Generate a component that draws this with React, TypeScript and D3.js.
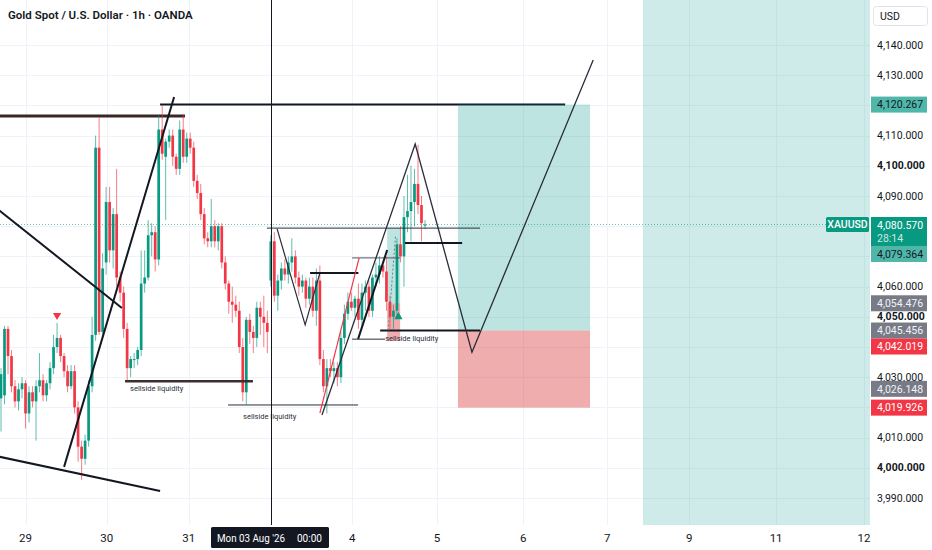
import React, { useEffect, useRef } from 'react'
import * as d3 from 'd3'

const title = 'Gold Spot / U.S. Dollar · 1h · OANDA'

// hourly candles: [open, high, low, close]
const candles: [number, number, number, number][] = [
  [4023, 4033, 4012, 4031], [4024, 4047, 4021, 4046], [4046, 4047, 4031, 4037],
  [4037, 4039, 4025, 4027], [4027, 4029, 4020, 4022], [4022, 4028, 4019, 4026],
  [4026, 4030, 4023, 4028], [4028, 4029, 4013, 4018], [4018, 4027, 4015, 4025],
  [4025, 4027, 4020, 4022], [4022, 4029, 4009, 4027], [4027, 4038, 4025, 4029],
  [4029, 4031, 4022, 4024], [4024, 4029, 4022, 4028], [4028, 4035, 4026, 4033],
  [4033, 4044, 4031, 4040], [4040, 4048, 4038, 4043], [4043, 4044, 4035, 4037],
  [4037, 4038, 4030, 4032], [4032, 4034, 4025, 4027], [4027, 4034, 4026, 4032],
  [4032, 4034, 4018, 4020], [4020, 4022, 4002, 4007], [4007, 4009, 3996, 4003],
  [4003, 4011, 4001, 4009], [4009, 4029, 4007, 4027], [4027, 4050, 4025, 4044],
  [4044, 4110, 4042, 4106], [4106, 4116, 4044, 4045], [4045, 4071, 4043, 4066],
  [4068, 4093, 4064, 4088], [4088, 4093, 4068, 4072], [4072, 4086, 4066, 4084],
  [4084, 4099, 4060, 4063], [4063, 4065, 4055, 4058], [4058, 4060, 4043, 4046],
  [4046, 4048, 4029, 4033], [4033, 4037, 4030, 4036], [4036, 4038, 4033, 4036],
  [4036, 4040, 4034, 4039], [4039, 4072, 4037, 4061], [4061, 4072, 4058, 4063],
  [4063, 4082, 4062, 4077], [4077, 4081, 4070, 4078], [4078, 4080, 4065, 4069],
  [4069, 4117, 4067, 4112], [4112, 4120, 4102, 4104], [4103, 4109, 4082, 4108],
  [4108, 4112, 4106, 4110], [4110, 4112, 4100, 4103], [4103, 4104, 4097, 4099],
  [4099, 4115, 4097, 4112], [4112, 4117, 4101, 4103], [4103, 4111, 4101, 4109],
  [4109, 4111, 4104, 4106], [4106, 4108, 4093, 4095], [4095, 4097, 4089, 4091],
  [4091, 4094, 4082, 4084], [4084, 4086, 4074, 4076], [4076, 4078, 4073, 4075],
  [4075, 4089, 4073, 4080], [4080, 4082, 4073, 4075], [4075, 4081, 4072, 4080],
  [4080, 4081, 4066, 4068], [4068, 4070, 4059, 4061], [4061, 4062, 4051, 4055],
  [4055, 4060, 4048, 4054], [4054, 4057, 4050, 4052], [4052, 4055, 4038, 4040],
  [4040, 4043, 4022, 4025], [4025, 4050, 4021, 4049], [4049, 4051, 4041, 4045],
  [4045, 4047, 4038, 4043], [4043, 4055, 4040, 4053], [4053, 4055, 4044, 4050],
  [4050, 4057, 4040, 4048], [4048, 4052, 4038, 4045], [4062, 4077, 4060, 4075],
  [4075, 4078, 4055, 4057], [4057, 4064, 4052, 4062], [4062, 4068, 4059, 4066],
  [4066, 4069, 4062, 4064], [4064, 4070, 4061, 4068], [4068, 4076, 4065, 4070],
  [4070, 4072, 4061, 4063], [4063, 4065, 4057, 4060], [4060, 4064, 4058, 4062],
  [4062, 4063, 4053, 4056], [4056, 4063, 4054, 4060], [4060, 4063, 4050, 4052],
  [4052, 4066, 4047, 4062], [4062, 4067, 4034, 4036], [4036, 4039, 4025, 4027],
  [4027, 4036, 4018, 4033], [4033, 4036, 4030, 4032], [4032, 4035, 4028, 4033],
  [4033, 4035, 4027, 4030], [4030, 4045, 4028, 4043], [4043, 4054, 4041, 4051],
  [4051, 4058, 4049, 4055], [4055, 4058, 4052, 4053], [4053, 4057, 4050, 4056],
  [4056, 4061, 4046, 4049], [4049, 4061, 4047, 4058], [4058, 4062, 4052, 4060],
  [4060, 4062, 4050, 4052], [4052, 4064, 4050, 4063], [4063, 4068, 4060, 4064],
  [4064, 4070, 4061, 4067], [4067, 4068, 4063, 4065], [4065, 4070, 4052, 4055],
  [4055, 4057, 4046, 4050], [4050, 4054, 4046, 4052], [4052, 4076, 4050, 4074],
  [4074, 4080, 4068, 4070], [4070, 4090, 4060, 4083], [4083, 4097, 4078, 4085],
  [4085, 4100, 4075, 4088], [4088, 4099, 4080, 4094], [4094, 4107, 4084, 4087],
  [4087, 4090, 4075, 4081], [4080.2, 4082, 4079, 4080.57],
]

const lastPrice = 4080.57
const countdown = '28:14'
const symbol = 'XAUUSD'

// x axis (bar index) and y axis (price)
const dayTickIdx = [7, 30.2, 53.6, 77, 100.2, 124.4, 149, 173, 196.4, 221.2, 246.3]
const dayTickLabels = ['29', '30', '31', '3', '4', '5', '6', '7', '9', '11', '12']
const priceTicks = [3990, 4000, 4010, 4020, 4030, 4040, 4050, 4060, 4070, 4080, 4090, 4100, 4110, 4120, 4130, 4140]
const boldTicks = [4000, 4050, 4100]
const crosshairIdx = 77.05
const crosshairDate = "Mon 03 Aug '26"
const crosshairTime = '00:00'

// drawings: [bar index, price]
const topResistance: [number, number][] = [[-1, 4116.5], [52.5, 4116.5]]
const targetLine: [number, number][] = [[45.4, 4120.267], [161, 4120.267]]
const fallingLine: [number, number][] = [[-1, 4085.7], [34.5, 4052.9]]
const risingLine: [number, number][] = [[18, 4000.3], [49.4, 4122.8]]
const lowerLine: [number, number][] = [[-1, 4003.8], [45.4, 3992.3]]
const sellside1: [number, number][] = [[35.4, 4028.7], [71.9, 4028.7]]
const sellside2: [number, number][] = [[64.8, 4020.8], [101.9, 4020.8]]
const sellside3: [number, number][] = [[108.2, 4045.456], [136.7, 4045.456]]
const rangeTop: [number, number][] = [[75.9, 4079.364], [136.7, 4079.364]]
const zigzagSmall: [number, number][] = [[78.8, 4079.1], [86.8, 4047.3], [91, 4064.5]]
const midHigh: [number, number][] = [[88.2, 4064.5], [102, 4064.5]]
const innerHigh: [number, number][] = [[100.2, 4069.5], [113.9, 4069.5]]
const redTrend: [number, number][] = [[91, 4018.1], [102.2, 4069.5]]
const projection: [number, number][] = [[91.6, 4017.5], [118.2, 4107.2], [134.4, 4038.3], [169, 4135]]
const channelLine: [number, number][] = [[101.9, 4042.6], [110.2, 4072.1]]
const channelBase: [number, number][] = [[100.2, 4042.6], [109.6, 4042.6]]
const breakLevel: [number, number][] = [[115.3, 4074.4], [131.6, 4074.4]]
const smallTrend: [number, number][] = [[110.5, 4045.5], [112.6, 4077]]
const sellsideLabel = 'sellside liquidity'

// position tools: [from, to] bars and [target, entry, stop] prices
const longSpan = [130.4, 168.1]
const longLevels = [4120.267, 4045.456, 4019.926]
const smallSpan = [110.2, 113.9]
const smallLevels = [4079.364, 4054.476, 4042.019]
const zoneSpan = [183.2, 260]

// markers
const downMarker: [number, number] = [16, 4050.5]
const upMarker: [number, number] = [113.4, 4050]

// price scale marks
const markPrices = [4120.267, 4079.364, 4054.476, 4045.456, 4042.019, 4026.148, 4019.926]
const markKinds = ['tp', 'tp', 'gray', 'gray', 'sl', 'gray', 'sl']

const FONT = "Roboto, 'Noto Sans', sans-serif"
const UP = '#089981'
const DOWN = '#f23645'
const W = 932
const H = 550
const PLOT_R = 870
const PLOT_B = 525

const App: React.FC = () => {
  const svgRef = useRef<SVGSVGElement>(null)

  useEffect(() => {
    const svg = d3.select(svgRef.current)
    svg.selectAll('*').remove()

    const x = d3.scaleLinear().domain([0, 121]).range([1, 425])
    const y = d3.scaleLinear().domain([3990, 4140]).range([498, 45])

    svg.append('rect').attr('width', W).attr('height', H).attr('fill', '#fff')

    svg
      .append('clipPath')
      .attr('id', 'plot-clip')
      .append('rect')
      .attr('width', PLOT_R)
      .attr('height', PLOT_B)

    const plot = svg.append('g').attr('clip-path', 'url(#plot-clip)')

    // grid
    plot
      .selectAll('.hgrid')
      .data(priceTicks)
      .enter()
      .append('line')
      .attr('x1', 0)
      .attr('x2', PLOT_R)
      .attr('y1', (d) => Math.round(y(d)) + 0.5)
      .attr('y2', (d) => Math.round(y(d)) + 0.5)
      .attr('stroke', '#eff2f8')
    plot
      .selectAll('.vgrid')
      .data(dayTickIdx)
      .enter()
      .append('line')
      .attr('x1', (d) => Math.round(x(d)) + 0.5)
      .attr('x2', (d) => Math.round(x(d)) + 0.5)
      .attr('y1', 0)
      .attr('y2', PLOT_B)
      .attr('stroke', '#eff2f8')

    // far right projection zone
    plot
      .append('rect')
      .attr('x', x(zoneSpan[0]))
      .attr('y', 0)
      .attr('width', x(zoneSpan[1]) - x(zoneSpan[0]))
      .attr('height', PLOT_B)
      .attr('fill', 'rgba(38,166,154,0.22)')

    const line = d3
      .line<[number, number]>()
      .x((d) => x(d[0]))
      .y((d) => y(d[1]))

    const draw = (pts: [number, number][], color: string, width: number) =>
      plot
        .append('path')
        .attr('d', line(pts))
        .attr('fill', 'none')
        .attr('stroke', color)
        .attr('stroke-width', width)

    draw(targetLine, '#131722', 2)
    draw(topResistance, '#3b2626', 3)

    // position boxes
    const box = (span: number[], levels: number[]) => {
      plot
        .append('rect')
        .attr('x', x(span[0]))
        .attr('y', y(levels[0]))
        .attr('width', x(span[1]) - x(span[0]))
        .attr('height', y(levels[1]) - y(levels[0]))
        .attr('fill', 'rgba(38,166,154,0.3)')
      plot
        .append('rect')
        .attr('x', x(span[0]))
        .attr('y', y(levels[1]))
        .attr('width', x(span[1]) - x(span[0]))
        .attr('height', y(levels[2]) - y(levels[1]))
        .attr('fill', 'rgba(220,60,60,0.42)')
    }
    box(longSpan, longLevels)
    box(smallSpan, smallLevels)

    // current price dotted line
    plot
      .append('line')
      .attr('x1', 0)
      .attr('x2', PLOT_R)
      .attr('y1', Math.round(y(lastPrice)) + 0.5)
      .attr('y2', Math.round(y(lastPrice)) + 0.5)
      .attr('stroke', UP)
      .attr('stroke-opacity', 0.6)
      .attr('stroke-dasharray', '1,2')

    // candles
    const bars = plot
      .selectAll('.candle')
      .data(candles)
      .enter()
      .append('g')
    bars
      .append('line')
      .attr('x1', (_, i) => x(i))
      .attr('x2', (_, i) => x(i))
      .attr('y1', (d) => y(d[1]))
      .attr('y2', (d) => y(d[2]))
      .attr('stroke', (d) => (d[3] >= d[0] ? UP : DOWN))
      .attr('stroke-opacity', 0.65)
      .attr('stroke-width', 1)
    bars
      .append('rect')
      .attr('x', (_, i) => x(i) - 1.35)
      .attr('width', 2.7)
      .attr('y', (d) => y(Math.max(d[0], d[3])))
      .attr('height', (d) => Math.max(1, Math.abs(y(d[0]) - y(d[3]))))
      .attr('fill', (d) => (d[3] >= d[0] ? UP : DOWN))

    // markers
    const tri = d3.symbol().type(d3.symbolTriangle).size(30)
    plot
      .append('path')
      .attr('d', tri())
      .attr('transform', `translate(${x(downMarker[0])},${y(downMarker[1])}) rotate(180)`)
      .attr('fill', DOWN)
    plot
      .append('path')
      .attr('d', tri())
      .attr('transform', `translate(${x(upMarker[0])},${y(upMarker[1])})`)
      .attr('fill', UP)

    // drawings
    draw(fallingLine, '#131722', 2)
    draw(risingLine, '#131722', 2)
    draw(lowerLine, '#131722', 2)
    draw(sellside1, '#3b2f2f', 2.5)
    draw(sellside2, '#2a2e39', 1)
    draw(sellside3, '#131722', 2)
    draw(rangeTop, '#2a2e39', 1)
    draw(zigzagSmall, '#2a2e39', 1.2)
    draw(midHigh, '#131722', 2)
    draw(innerHigh, '#50535e', 1)
    draw(redTrend, DOWN, 1.2)
    draw(projection, '#2a2e39', 1.3)
    draw(channelLine, '#131722', 2)
    draw(channelBase, '#2a2e39', 1)
    draw(breakLevel, '#131722', 2)
    draw(smallTrend, '#787b86', 1).attr('stroke-dasharray', '2,2')

    const note = (pts: [number, number][], dx: number, dy: number) =>
      plot
        .append('text')
        .attr('x', x(pts[0][0]) + dx)
        .attr('y', y(pts[0][1]) + dy)
        .attr('font-family', FONT)
        .attr('font-size', 7.5)
        .attr('fill', '#2a2e39')
        .text(sellsideLabel)
    note(sellside1, 5, 10)
    note(sellside2, 15, 14)
    note(sellside3, 5, 10)

    // crosshair
    plot
      .append('line')
      .attr('x1', Math.round(x(crosshairIdx)) + 0.5)
      .attr('x2', Math.round(x(crosshairIdx)) + 0.5)
      .attr('y1', 0)
      .attr('y2', PLOT_B)
      .attr('stroke', '#131722')
      .attr('stroke-width', 1)

    // title
    svg
      .append('text')
      .attr('x', 8)
      .attr('y', 19)
      .attr('font-family', FONT)
      .attr('font-size', 11.5)
      .attr('font-weight', 600)
      .attr('fill', '#131722')
      .text(title)

    // scale marks, ordered by price and pushed down where they would overlap
    type Mark = { price: number; kind: string; top: number; h: number }
    const marks: Mark[] = markPrices.map((p, i) => ({
      price: p,
      kind: markKinds[i],
      top: y(p) - 8,
      h: 16,
    }))
    marks.push({ price: lastPrice, kind: 'last', top: y(lastPrice) - 7.5, h: 29 })
    marks.sort((a, b) => b.price - a.price)
    for (let i = 1; i < marks.length; i++) {
      const prev = marks[i - 1]
      const minTop = prev.top + prev.h
      if (marks[i].top < minTop) marks[i].top = minTop
    }

    // price axis ticks that are not hidden behind a mark
    const axis = svg.append('g')
    const visibleTicks = priceTicks.filter(
      (t) => !marks.some((m) => y(t) + 3 > m.top && y(t) - 3 < m.top + m.h),
    )
    axis
      .selectAll('text')
      .data(visibleTicks)
      .enter()
      .append('text')
      .attr('x', 877)
      .attr('y', (d) => y(d))
      .attr('dy', '0.35em')
      .attr('font-family', FONT)
      .attr('font-size', 10.5)
      .attr('font-weight', (d) => (boldTicks.includes(d) ? 700 : 400))
      .attr('fill', '#131722')
      .text((d) => d3.format(',.3f')(d))

    // USD box
    axis
      .append('rect')
      .attr('x', 873.5)
      .attr('y', 6.5)
      .attr('width', 54)
      .attr('height', 19)
      .attr('rx', 3)
      .attr('fill', '#fff')
      .attr('stroke', '#e0e3eb')
    axis
      .append('text')
      .attr('x', 880)
      .attr('y', 16)
      .attr('dy', '0.35em')
      .attr('font-family', FONT)
      .attr('font-size', 10.5)
      .attr('fill', '#131722')
      .text('USD')

    const bg: Record<string, string> = { tp: '#4fb7a9', gray: '#787b86', sl: '#f23645', last: UP }
    const fg: Record<string, string> = { tp: '#131722', gray: '#f0f3fa', sl: '#fff', last: '#fff' }
    marks.forEach((m) => {
      axis
        .append('rect')
        .attr('x', 871)
        .attr('y', m.top)
        .attr('width', 56)
        .attr('height', m.h)
        .attr('fill', bg[m.kind])
      axis
        .append('text')
        .attr('x', 877)
        .attr('y', m.top + 8)
        .attr('dy', '0.35em')
        .attr('font-family', FONT)
        .attr('font-size', 10.5)
        .attr('fill', fg[m.kind])
        .text(d3.format(',.3f')(m.price))
      if (m.kind === 'last') {
        axis
          .append('text')
          .attr('x', 877)
          .attr('y', m.top + 21)
          .attr('dy', '0.35em')
          .attr('font-family', FONT)
          .attr('font-size', 10.5)
          .attr('fill', 'rgba(255,255,255,0.8)')
          .text(countdown)
      }
    })

    // symbol tag
    const ly = y(lastPrice)
    axis
      .append('rect')
      .attr('x', 826)
      .attr('y', ly - 7.5)
      .attr('width', 43)
      .attr('height', 15)
      .attr('rx', 1.5)
      .attr('fill', UP)
    axis
      .append('text')
      .attr('x', 847.5)
      .attr('y', ly)
      .attr('dy', '0.35em')
      .attr('text-anchor', 'middle')
      .attr('font-family', FONT)
      .attr('font-size', 10.5)
      .attr('font-weight', 500)
      .attr('fill', '#fff')
      .text(symbol)

    // time axis
    const cx = x(crosshairIdx)
    const timeAxis = svg.append('g')
    timeAxis
      .selectAll('text')
      .data(dayTickIdx.filter((d) => Math.abs(x(d) - cx) > 60))
      .enter()
      .append('text')
      .attr('x', (d) => x(d))
      .attr('y', 538)
      .attr('dy', '0.35em')
      .attr('text-anchor', 'middle')
      .attr('font-family', FONT)
      .attr('font-size', 11.5)
      .attr('fill', '#131722')
      .text((d) => dayTickLabels[dayTickIdx.indexOf(d)])

    timeAxis
      .append('rect')
      .attr('x', cx - 60)
      .attr('y', 527)
      .attr('width', 118)
      .attr('height', 21)
      .attr('rx', 1.5)
      .attr('fill', '#131722')
    timeAxis
      .append('text')
      .attr('x', cx - 54)
      .attr('y', 538)
      .attr('dy', '0.35em')
      .attr('font-family', FONT)
      .attr('font-size', 11)
      .attr('textLength', 68)
      .attr('lengthAdjust', 'spacingAndGlyphs')
      .attr('fill', '#fff')
      .text(crosshairDate)
    timeAxis
      .append('text')
      .attr('x', cx + 26)
      .attr('y', 538)
      .attr('dy', '0.35em')
      .attr('font-family', FONT)
      .attr('font-size', 11)
      .attr('textLength', 25)
      .attr('lengthAdjust', 'spacingAndGlyphs')
      .attr('fill', '#fff')
      .text(crosshairTime)
  }, [])

  return (
    <div
      style={{
        position: 'fixed',
        left: 0,
        top: 0,
        width: W,
        height: H,
        background: '#fff',
      }}
    >
      <svg ref={svgRef} width={W} height={H} style={{ display: 'block' }}></svg>
    </div>
  )
}

export default App
